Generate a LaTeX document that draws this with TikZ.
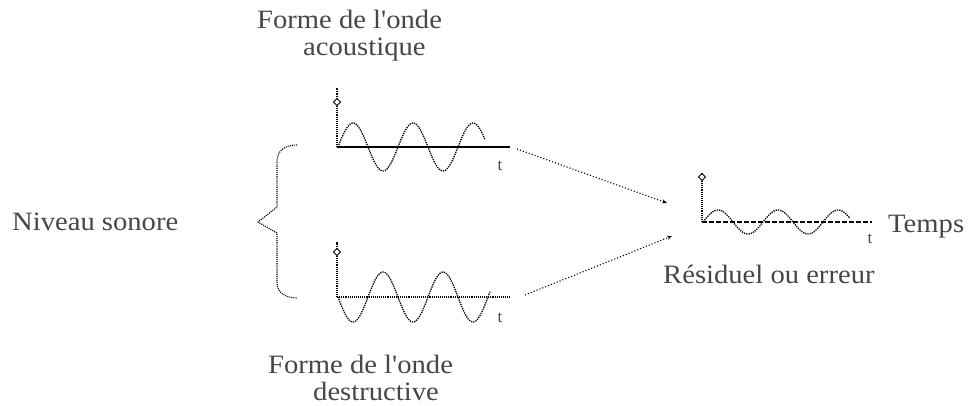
\documentclass[tikz,border=0pt]{standalone}
\usepackage{fontspec}
\setmainfont{Liberation Serif}
\newfontfamily\widefont[FakeStretch=1.08]{Liberation Serif}
\usetikzlibrary{arrows.meta}
\begin{document}
\begin{tikzpicture}[x=1pt,y=-1pt,
  lbl/.style={inner sep=0pt, text=black!72, font=\widefont\fontsize{26.5}{30}\selectfont},
  tlbl/.style={inner sep=0pt, text=black!72, font=\fontsize{17}{18}\selectfont},
  axisln/.style={densely dotted, line width=1.1pt},
  wave/.style={densely dotted, line width=1.3pt},
  conn/.style={dotted, line width=1.1pt, -{Stealth[length=5pt,width=4pt]}},
  axmark/.style={draw, line width=0.8pt, fill=white, inner sep=0pt, minimum size=5pt, rotate=45}]
\useasboundingbox (0,0) rectangle (968,405);
\fill[white] (0,0) rectangle (968,405);

% texts
\node[lbl, anchor=base west] (t1a) at (257,28) {Forme de l'onde};
\node[lbl, anchor=base west] (t1b) at (303,55) {acoustique};
\node[lbl, anchor=base west] (t2a) at (268,373) {Forme de l'onde};
\node[lbl, anchor=base west] (t2b) at (313,400) {destructive};
\node[lbl, anchor=base west] (niv) at (12,230) {Niveau sonore};
\node[lbl, anchor=base west] (tmp) at (888,232) {Temps};
\node[lbl, anchor=base west] (res) at (663,283) {Résiduel ou erreur};

% top wave
\draw[axisln] (337,147) -- (337,88);
\node[axmark] (m1) at (337,102) {};
\draw[line width=1.6pt] (337,147) -- (510,147);
\draw[wave] plot[domain=338:485, samples=120] (\x, {147 - 24*sin(6*(\x-338))});
\node[tlbl, anchor=base] (tt1) at (500,170) {t};

% bottom wave
\draw[axisln] (337,297) -- (337,242);
\node[axmark] (m2) at (337,252) {};
\draw[densely dotted, line width=1.1pt] (337,297) -- (510,297);
\draw[wave] plot[domain=338:490, samples=120] (\x, {297 + 25*sin(6*(\x-338))});
\node[tlbl, anchor=base] (tt2) at (500,322) {t};

% residual wave
\draw[axisln] (702,222) -- (702,172);
\node[axmark] (m3) at (702,177) {};
\draw[line width=1.1pt, dash pattern=on 5pt off 2pt] (702,222) -- (872,222);
\draw[wave] plot[domain=703:850, samples=120] (\x, {222 - 12*sin(6*(\x-703))});
\node[tlbl, anchor=base] (tt3) at (870,243) {t};

% connectors
\coordinate (a1) at (517,149);
\coordinate (b1) at (667,203);
\coordinate (a2) at (525,295);
\coordinate (b2) at (672,236);
\draw[conn] (a1) -- (b1);
\draw[conn] (a2) -- (b2);

% brace
\draw[densely dotted, line width=1.1pt] (297,145) .. controls (284,145) and (277,151) .. (277,162)
  -- (277,207) -- (258,222) -- (277,233) -- (277,283)
  .. controls (277,292) and (285,298) .. (297,298);
\end{tikzpicture}
\end{document}
